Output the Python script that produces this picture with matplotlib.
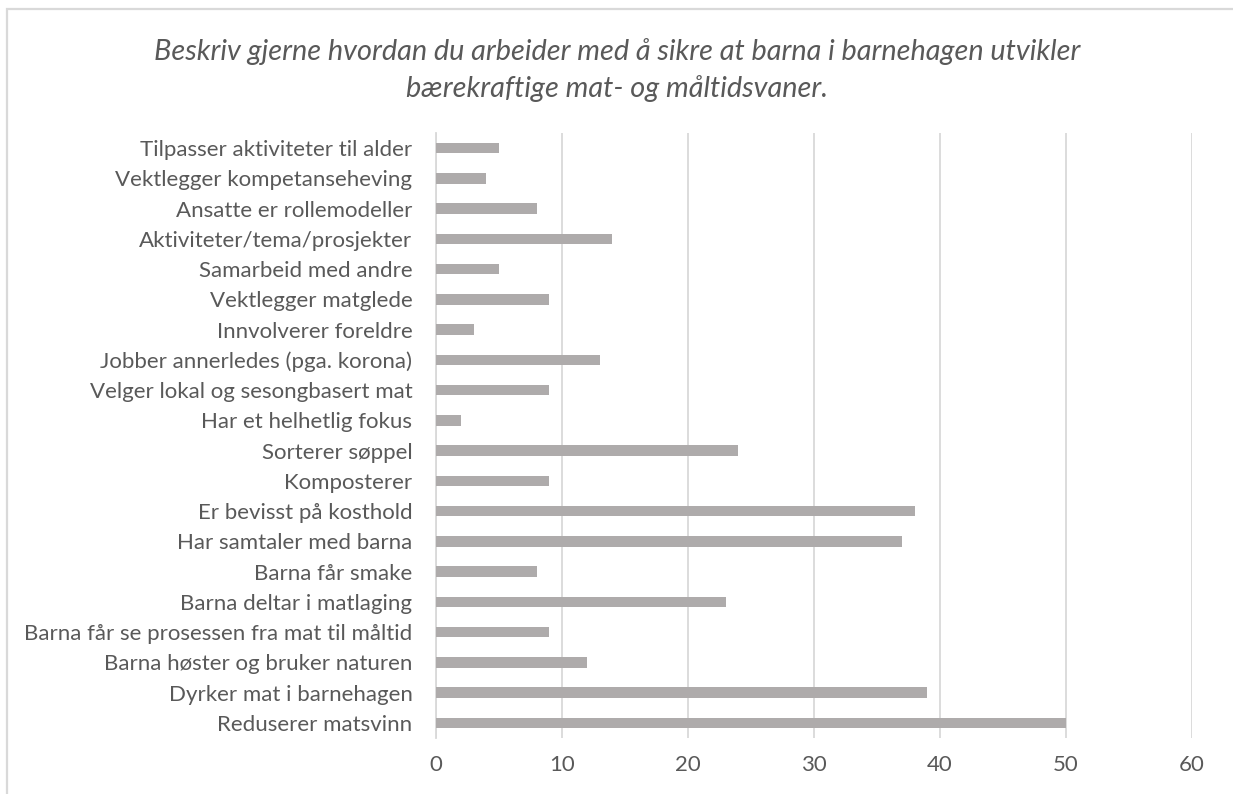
import matplotlib.pyplot as plt
from matplotlib.patches import Rectangle

# categories listed bottom to top, as they appear on the y axis
categories = [
    "Reduserer matsvinn",
    "Dyrker mat i barnehagen",
    "Barna høster og bruker naturen",
    "Barna får se prosessen fra mat til måltid",
    "Barna deltar i matlaging",
    "Barna får smake",
    "Har samtaler med barna",
    "Er bevisst på kosthold",
    "Komposterer",
    "Sorterer søppel",
    "Har et helhetlig fokus",
    "Velger lokal og sesongbasert mat",
    "Jobber annerledes (pga. korona)",
    "Innvolverer foreldre",
    "Vektlegger matglede",
    "Samarbeid med andre",
    "Aktiviteter/tema/prosjekter",
    "Ansatte er rollemodeller",
    "Vektlegger kompetanseheving",
    "Tilpasser aktiviteter til alder",
]
counts = [50, 39, 12, 9, 23, 8, 37, 38, 9, 24, 2, 9, 13, 3, 9, 5, 14, 8, 4, 5]
x_ticks = [0, 10, 20, 30, 40, 50, 60]
title = ("Beskriv gjerne hvordan du arbeider med å sikre at barna i barnehagen utvikler\n"
         "bærekraftige mat- og måltidsvaner.")

W, H = 1233, 794
fig = plt.figure(figsize=(W / 100, H / 100), dpi=100)
plt.rcParams['font.family'] = ['Lato', 'DejaVu Sans']

text_col = "#595959"
grid_col = "#D9D9D9"

# chart frame (cut off at right/bottom like the reference)
fig.patches.append(Rectangle((7 / W, -0.05), 1.2, 1 - 8.5 / H + 0.05,
                             transform=fig.transFigure, fill=False,
                             edgecolor=grid_col, linewidth=1.6))

ax = fig.add_axes([436 / W, 1 - 738 / H, (1192 - 436) / W, (738 - 133) / H])
ypos = list(range(len(categories)))
ax.barh(ypos, counts, height=0.35, color="#AEABAB", zorder=3)

ax.set_xlim(0, 60)
ax.set_ylim(-0.5, len(categories) - 0.5)
ax.set_xticks(x_ticks)
ax.set_yticks(ypos)
ax.set_yticklabels(categories)
ax.tick_params(axis="y", length=0, pad=17, labelsize=16, labelcolor=text_col)
ax.tick_params(axis="x", length=0, pad=12, labelsize=16, labelcolor=text_col)
ax.xaxis.grid(True, color=grid_col, linewidth=1.3, zorder=0)
for s in ["top", "right", "bottom"]:
    ax.spines[s].set_visible(False)
ax.spines["left"].set_color(grid_col)
ax.spines["left"].set_linewidth(1.3)

fig.text(617 / W, 1 - 70 / H, title, ha="center", va="center", style="italic",
         fontsize=20.8, color=text_col, linespacing=1.42)

fig.savefig("out.png", dpi=100)
